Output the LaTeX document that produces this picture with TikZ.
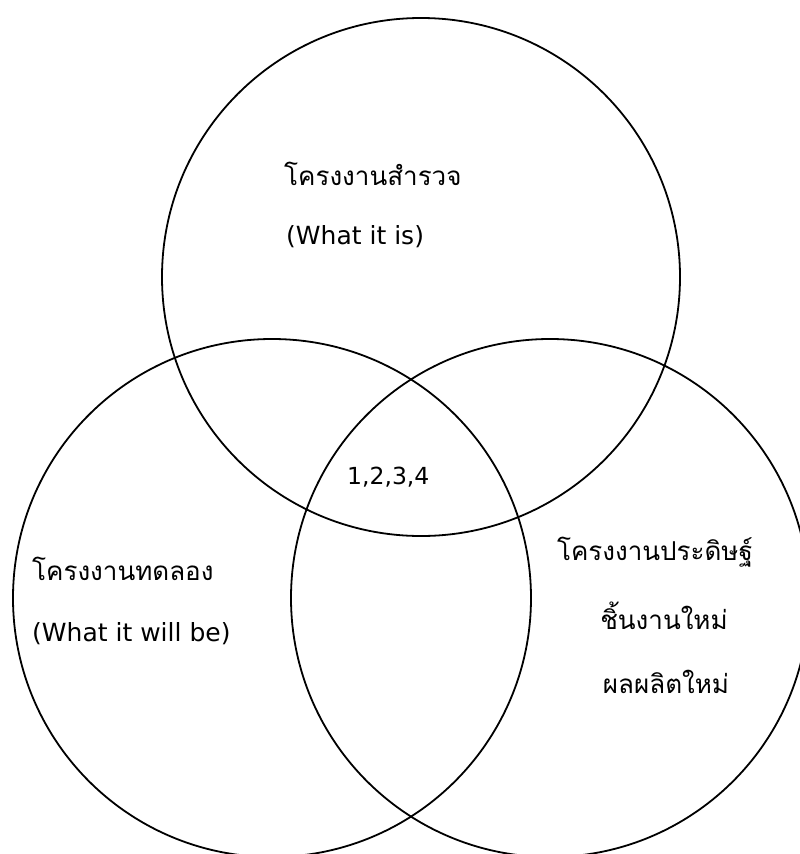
\documentclass[tikz,border=0pt]{standalone}
\usepackage{fontspec}
\newfontfamily\thaifont[Script=Thai]{Loma}
\newfontfamily\latinfont{DejaVu Sans}
\usepackage{tikz}
\newcommand{\vennset}[2] {\node at (#1) (#2) [circle, draw, line width=1.8pt, minimum size=518pt, inner sep=0pt] {};}
\newcommand{\vennthai}[4] {\node at (#1) (#2) [anchor=#4, inner sep=0pt, font=\thaifont\fontsize{26}{30}\selectfont] {#3};}
\newcommand{\vennlatin}[4] {\node at (#1) (#2) [anchor=west, inner sep=0pt, font=\latinfont\fontsize{#4}{30}\selectfont] {#3};}

\begin{document}
\begin{tikzpicture}[x=1pt, y=-1pt]
\useasboundingbox (0,0) rectangle (800,854);
\clip (0,0) rectangle (800,854);

\vennset {421,277} {survey};
\vennset {272,598} {experiment};
\vennset {550,598} {invention};

\vennthai {284,174} {surveyname} {โครงงานสำรวจ} {west};
\vennlatin {286,237} {surveynote} {(What it is)} {25};
\vennlatin {347,477} {common} {1,2,3,4} {23.5};
\vennthai {32,569} {experimentname} {โครงงานทดลอง} {west};
\vennlatin {32,634} {experimentnote} {(What it will be)} {25};
\vennthai {655,552} {inventionname} {โครงงานประดิษฐ์} {center};
\vennthai {664,616} {inventionpiece} {ชิ้นงานใหม่} {center};
\vennthai {666,682} {inventionproduct} {ผลผลิตใหม่} {center};

\end{tikzpicture}
\end{document}
